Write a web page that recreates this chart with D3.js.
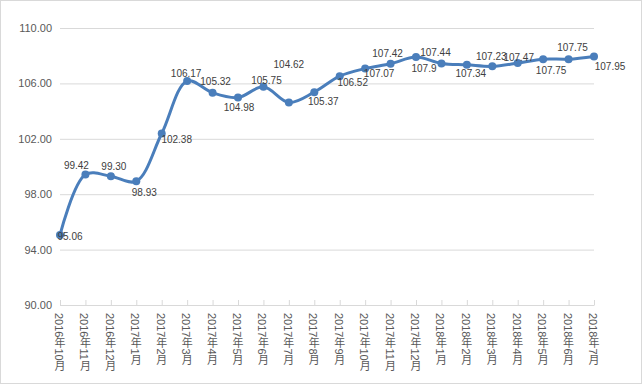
<!DOCTYPE html>
<html>
<head>
<meta charset="utf-8">
<script src="https://cdn.jsdelivr.net/npm/d3@7"></script>
<style>
  body { margin: 0; background: #fff; }
  svg { display: block; }
  .xlab { writing-mode: vertical-rl; text-orientation: mixed; }
</style>
</head>
<body>
<div id="chart"></div>
<script>
const months = ['2016年10月', '2016年11月', '2016年12月', '2017年1月', '2017年2月', '2017年3月',
  '2017年4月', '2017年5月', '2017年6月', '2017年7月', '2017年8月', '2017年9月', '2017年10月',
  '2017年11月', '2017年12月', '2018年1月', '2018年2月', '2018年3月', '2018年4月', '2018年5月',
  '2018年6月', '2018年7月'];
const values = [95.06, 99.42, 99.30, 98.93, 102.38, 106.17, 105.32, 104.98, 105.75, 104.62, 105.37,
  106.52, 107.07, 107.42, 107.9, 107.44, 107.34, 107.23, 107.47, 107.75, 107.75, 107.95];
const labels = ['95.06', '99.42', '99.30', '98.93', '102.38', '106.17', '105.32', '104.98', '105.75',
  '104.62', '105.37', '106.52', '107.07', '107.42', '107.9', '107.44', '107.34', '107.23', '107.47',
  '107.75', '107.75', '107.95'];
const yTicks = [90, 94, 98, 102, 106, 110];

// data label nudges (dx, dy from the point), as placed in the original
const labelNudge = [[10, 2], [-9, -9], [3, -10], [8, 11], [15, 6], [-1, -8], [3, -11], [1, 10],
  [3, -6], [0, -38], [9, 9], [13, 6], [14, 5], [-3, -10], [8, 11], [-6, -11], [4, 9], [-1, -10],
  [1, -6], [8, 11], [4, -12], [16, 10]];

const width = 643;
const height = 385;
const color = '#4a7ebb';

const svg = d3.select('#chart')
  .append('svg')
  .attr('width', width)
  .attr('height', height);

svg.append('rect')
  .attr('x', 0.5).attr('y', 0.5)
  .attr('width', 641).attr('height', 383)
  .attr('fill', '#fff')
  .attr('stroke', '#d9d9d9');

const x = d3.scalePoint().domain(months).range([60, 594]);
const y = d3.scaleLinear().domain([90, 110]).range([305, 28]);

// gridlines + y labels
const yAxis = d3.axisLeft(y)
  .tickValues(yTicks)
  .tickSize(-(594 - 60))
  .tickPadding(8)
  .tickFormat(d3.format('.2f'));

svg.append('g')
  .attr('transform', 'translate(60,0)')
  .call(yAxis)
  .call(g => g.select('.domain').remove())
  .call(g => g.selectAll('.tick line').attr('stroke', '#d9d9d9'))
  .call(g => g.selectAll('.tick text')
    .attr('fill', '#595959')
    .style('font-family', 'Liberation Sans, Arial, sans-serif')
    .style('font-size', '11px'));

// x axis, ticks pointing up
const xAxis = d3.axisBottom(x).tickSizeInner(-5).tickSizeOuter(0).tickFormat('');
svg.append('g')
  .attr('transform', 'translate(0,305)')
  .call(xAxis)
  .call(g => g.select('.domain').attr('stroke', '#d9d9d9'))
  .call(g => g.selectAll('.tick line').attr('stroke', '#d9d9d9'));

svg.append('g')
  .selectAll('text')
  .data(months)
  .enter()
  .append('text')
  .attr('class', 'xlab')
  .attr('x', d => x(d) - 1)
  .attr('y', 313)
  .attr('fill', '#595959')
  .style('font-family', 'Liberation Sans, Noto Sans CJK SC, sans-serif')
  .style('font-size', '11px')
  .text(d => d);

// smoothed line
const line = d3.line()
  .x((d, i) => x(months[i]))
  .y(d => y(d))
  .curve(d3.curveCatmullRom.alpha(0.5));

svg.append('path')
  .datum(values)
  .attr('d', line)
  .attr('fill', 'none')
  .attr('stroke', color)
  .attr('stroke-width', 3)
  .attr('stroke-linejoin', 'round')
  .attr('stroke-linecap', 'round');

svg.append('g')
  .selectAll('circle')
  .data(values)
  .enter()
  .append('circle')
  .attr('cx', (d, i) => x(months[i]))
  .attr('cy', d => y(d))
  .attr('r', 4)
  .attr('fill', color);

svg.append('g')
  .selectAll('text')
  .data(values)
  .enter()
  .append('text')
  .attr('x', (d, i) => x(months[i]) + labelNudge[i][0])
  .attr('y', (d, i) => y(d) + labelNudge[i][1])
  .attr('text-anchor', 'middle')
  .attr('dominant-baseline', 'central')
  .attr('fill', '#404040')
  .style('font-family', 'Liberation Sans, Arial, sans-serif')
  .style('font-size', '10px')
  .text((d, i) => labels[i]);
</script>
</body>
</html>
